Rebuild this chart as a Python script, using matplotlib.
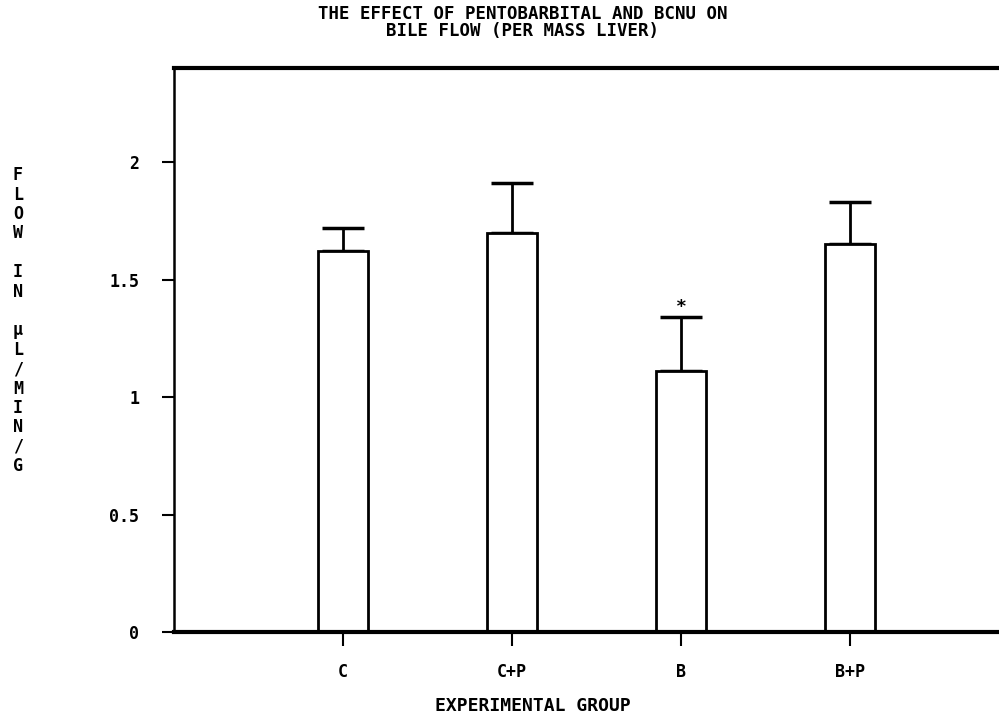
import matplotlib.pyplot as plt
import numpy as np

# bile flow per mass liver
groups = ["C", "C+P", "B", "B+P"]
mean_flow = [1.62, 1.70, 1.11, 1.65]
sem_flow = [0.10, 0.21, 0.23, 0.18]
significant = [False, False, True, False]
ytick_values = [0, 0.5, 1, 1.5, 2]
ytick_labels = ["0", "0.5", "1", "1.5", "2"]

title = "THE EFFECT OF PENTOBARBITAL AND BCNU ON\nBILE FLOW (PER MASS LIVER)"
xlabel = "EXPERIMENTAL GROUP"
ylabel = "FLOW IN μL/MIN/G"

plt.rcParams["font.family"] = ["DejaVu Sans Mono", "DejaVu Sans"]
plt.rcParams["font.weight"] = "bold"

fig = plt.figure(figsize=(9.99, 7.16), dpi=100)
# the frame runs past the right edge of the page, as in the scan
ax = fig.add_axes([0.1742, 0.1173, 0.8458, 0.7877])

x = np.arange(1, len(groups) + 1)
ax.bar(x, mean_flow, width=0.3, color="white", edgecolor="black", linewidth=2, zorder=2)
ax.errorbar(
    x, mean_flow,
    yerr=[np.zeros(len(x)), sem_flow],
    fmt="none", ecolor="black", elinewidth=2, capsize=15, capthick=2.5, zorder=1,
)
for xi, m, s, sig in zip(x, mean_flow, sem_flow, significant):
    if sig:
        ax.text(xi, m + s + 0.005, "*", ha="center", va="bottom", fontsize=13)

ax.set_xlim(0, 5)
ax.set_ylim(0, 2.4)
ax.set_xticks(x)
ax.set_xticklabels(groups)
ax.set_yticks(ytick_values)
ax.set_yticklabels(ytick_labels)

ax.spines["top"].set_linewidth(3)
ax.spines["bottom"].set_linewidth(3)
ax.spines["left"].set_linewidth(1.8)
ax.spines["right"].set_visible(False)
ax.tick_params(axis="y", length=9, width=1.5, pad=16, labelsize=12)
ax.tick_params(axis="x", length=10, width=1.5, pad=12, labelsize=12)

fig.text(0.523, 0.993, title, ha="center", va="top", fontsize=12.5, linespacing=0.9)
fig.text(0.533, 0.014, xlabel, ha="center", va="center", fontsize=13)
fig.text(0.018, 0.552, "\n".join(ylabel), ha="center", va="center", fontsize=12, linespacing=1.1)

fig.savefig("out.png", dpi=100)
